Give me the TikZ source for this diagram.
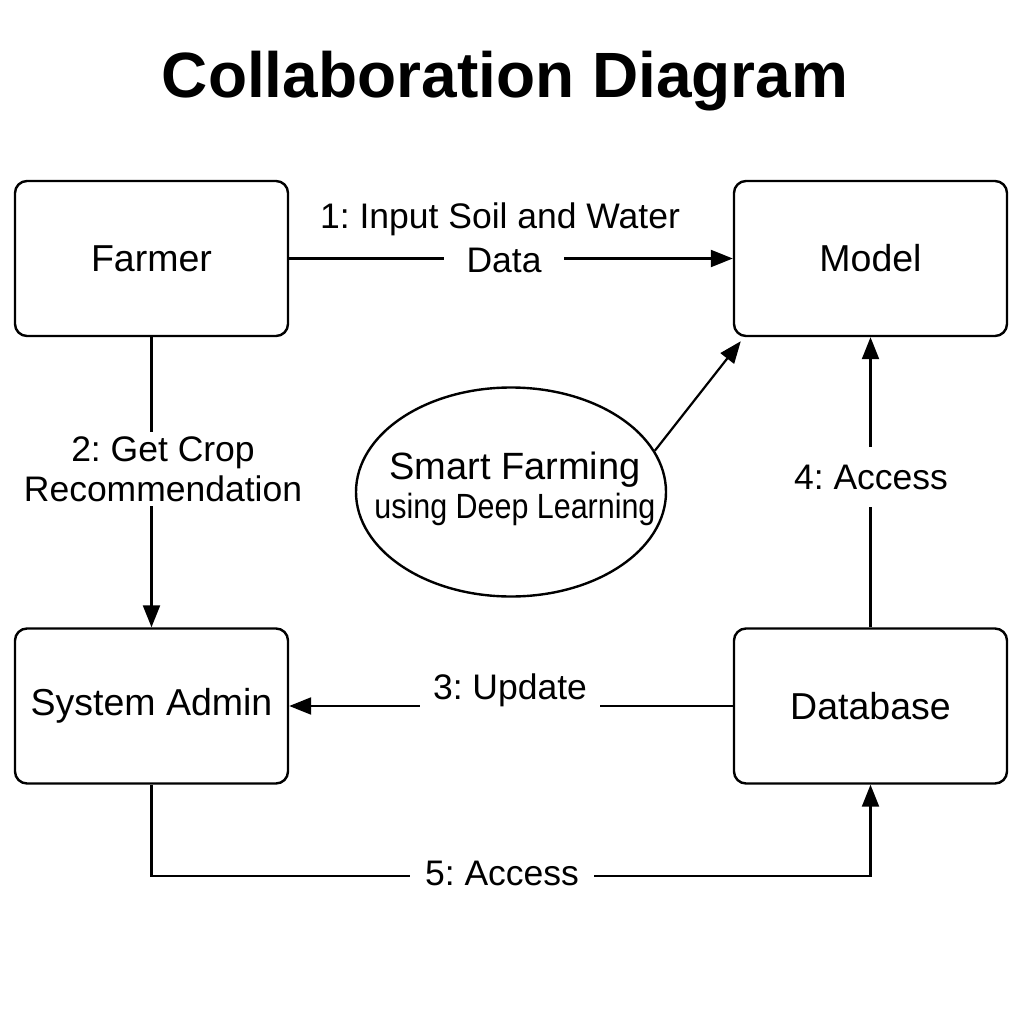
\documentclass[tikz,border=0pt]{standalone}
\usepackage{fontspec}
\setmainfont{Liberation Sans}
\usetikzlibrary{arrows.meta,shapes.geometric,calc}
\newcommand{\lblfont}{\fontsize{35.5}{40}\selectfont\frenchspacing}
\newcommand{\boxfont}{\fontsize{37.5}{42}\selectfont\frenchspacing}
\tikzset{
  box/.style={draw, line width=2.4pt, rounded corners=12pt, minimum width=273pt, minimum height=155pt, font=\boxfont, inner sep=0pt},
  lab/.style={fill=white, font=\lblfont, align=center, inner xsep=8pt, inner ysep=6pt},
  conn/.style={line width=2.2pt},
  arr/.style={conn, -{Triangle[length=22pt,width=17pt]}}
}
\begin{document}
\begin{tikzpicture}[x=1pt,y=-1pt]
\useasboundingbox[fill=white] (0,0) rectangle (1024,1024);
\node[font=\fontsize{64}{70}\selectfont\bfseries] (title) at (505,81) {Collaboration Diagram};

\node[box] (farmer) at (151.5,258.5) {Farmer};
\node[box] (model) at (870.5,258.5) {Model};
\node[box] (admin) at (151.5,706) {System Admin};
\node[box] (db) at (870.5,706) {Database};
\node[draw, ellipse, line width=2.4pt, minimum width=310pt, minimum height=209pt, inner sep=0pt] (ell) at (511,492) {};
\node[align=center, inner sep=0pt] (elltext) at (515,489)
  {{\fontsize{38}{42}\selectfont Smart Farming}\\[5pt]{\fontsize{35}{40}\selectfont\scalebox{0.87}[1]{using Deep Learning}}};

% connectors
\draw[arr] (farmer.east) -- (model.west);
\draw[arr] (farmer.south) -- (admin.north);
\draw[arr] (db.west) -- (admin.east);
\draw[arr] (db.north) -- (model.south);
\coordinate (c5a) at (151.5,876);
\coordinate (c5b) at (870.5,876);
\draw[arr] (admin.south) -- (c5a) -- (c5b) -- (db.south);
\coordinate (mtip) at ([shift={(8pt,-4pt)}]model.south west);
\draw[arr] (ell.16) -- (mtip);

% labels
\node[font=\lblfont] (l1a) at (500,219) {1: Input Soil and Water};
\node[lab, minimum width=120pt] (l1b) at (504,260) {Data};
\node[lab, inner ysep=4pt] (l2) at (163,469) {2: Get Crop\\Recommendation};
\node[lab, minimum width=180pt] (l3) at (510,690) {3: Update};
\node[lab, minimum height=60pt] (l4) at (871,477) {4: Access};
\node[lab, minimum width=184pt] (l5) at (502,873) {5: Access};
\end{tikzpicture}
\end{document}
